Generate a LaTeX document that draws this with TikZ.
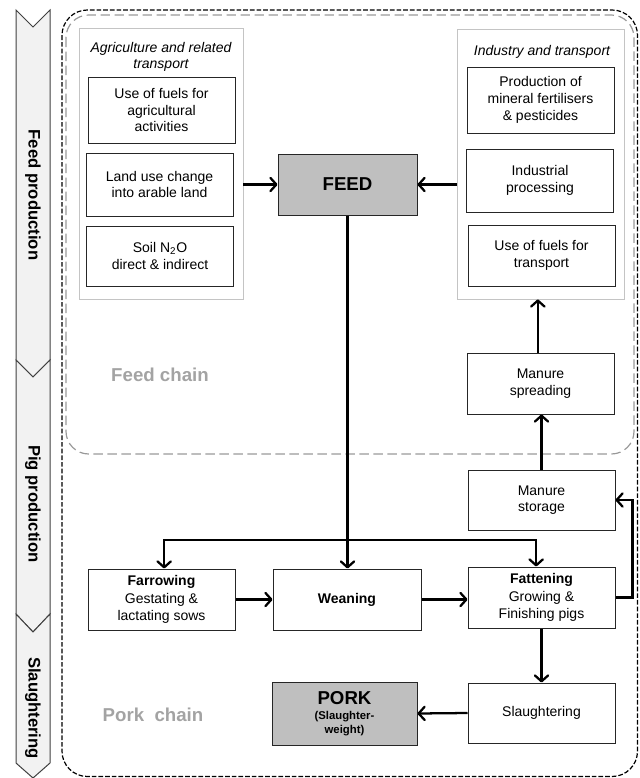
\documentclass[tikz,border=0pt]{standalone}
\usepackage{fontspec}
\setmainfont{Liberation Sans}
\usetikzlibrary{arrows.meta}
\definecolor{bandfill}{HTML}{F2F2F2}
\definecolor{bandline}{HTML}{404040}
\definecolor{grpgray}{HTML}{C4C4C4}
\definecolor{dashgray}{HTML}{999999}
\definecolor{chaingray}{HTML}{A3A3A3}
\definecolor{boxfill}{HTML}{BFBFBF}
\begin{document}
\begin{tikzpicture}[x=0.75pt,y=-0.75pt,
  every node/.style={font=\fontsize{10.5}{12.5}\selectfont},
  box/.style={draw=black!85, line width=0.75pt, fill=white, align=center, inner sep=0pt,
              minimum width=110.25pt},
  grp/.style={draw=grpgray, line width=0.6pt, fill=white, inner sep=0pt},
  hdr/.style={font=\fontsize{10.5}{12.5}\selectfont\itshape, align=center},
  darkbox/.style={box, fill=boxfill},
  band/.style={fill=bandfill, draw=bandline, line width=0.75pt, line join=miter},
  bandtext/.style={font=\fontsize{12.5}{14}\selectfont\bfseries, rotate=-90},
  chain/.style={font=\fontsize{14}{16}\selectfont\bfseries, text=chaingray},
  arr/.style={line width=1.7pt, -{Straight Barb[length=4.5pt,width=10pt,line width=1.7pt,round]}},
]
\useasboundingbox (0,0) rectangle (639,778);

% left band
\draw[band] (16,10) -- (33,27) -- (50,10) -- (50,360) -- (33,377) -- (16,360) -- cycle;
\draw[band] (16,360) -- (33,377) -- (50,360) -- (50,614) -- (33,632) -- (16,614) -- cycle;
\draw[band] (16,614) -- (33,632) -- (50,614) -- (50,763) -- (33,778) -- (16,763) -- cycle;
\node[bandtext] (bfeed) at (33,195) {Feed production};
\node[bandtext] (bpig) at (33,504) {Pig production};
\node[bandtext] (bslau) at (33,708) {Slaughtering};

% chain frames
\draw[line width=0.9pt, dash pattern=on 3.5pt off 1.5pt, rounded corners=19pt]
  (62,10) rectangle (637.5,776.5);
\draw[dashgray, line width=0.9pt, dash pattern=on 7pt off 3.5pt, rounded corners=17pt]
  (66,15) rectangle (634,454);
\node[chain] (feedchain) at (160,375) {Feed chain};
\node[chain] (porkchain) at (153,715) {Pork\ \ chain};

% groups
\node[grp, minimum width=123pt, minimum height=203.25pt] (agri) at (161,163.5) {};
\node[hdr] (agrih) at (161,57) {Agriculture and related\\transport};
\node[grp, minimum width=125.25pt, minimum height=202.5pt] (ind) at (540.5,164) {};
\node[hdr] (indh) at (542,52) {Industry and transport};

% boxes
\node[box, minimum height=49.5pt] (fuelagri) at (161.5,110) {Use of fuels for\\agricultural\\activities};
\node[box, minimum height=47.25pt] (landuse) at (159.5,184.5) {Land use change\\into arable land};
\node[box, minimum height=45pt] (soil) at (160,256) {Soil N\textsubscript{2}O\\direct \& indirect};
\node[darkbox, minimum width=104.25pt, minimum height=45.75pt,
      font=\fontsize{14}{16}\selectfont\bfseries] (feed) at (347.5,184.5) {FEED};
\node[box, minimum height=49.5pt] (prod) at (540.5,100) {Production of\\mineral fertilisers\\\& pesticides};
\node[box, minimum height=47.25pt] (indproc) at (540,180.5) {Industrial\\processing};
\node[box, minimum height=45.75pt] (fueltrans) at (541.5,255.5) {Use of fuels for\\transport};
\node[box, minimum height=45.75pt] (spread) at (540.5,383.5) {Manure\\spreading};
\node[box, minimum height=45pt] (storage) at (541.5,500) {Manure\\storage};
\node[box, minimum height=45.75pt] (farrow) at (161.5,599.5) {\textbf{Farrowing}\\[1pt]Gestating \&\\lactating sows};
\node[box, minimum width=111pt, minimum height=45.75pt] (wean) at (347,599.5) {\textbf{Weaning}};
\node[box, minimum height=45.75pt] (fatten) at (541.5,597.5) {\textbf{Fattening}\\[1pt]Growing \&\\Finishing pigs};
\node[box, minimum height=45pt] (slaughter) at (541.5,713) {Slaughtering};
\node[darkbox, minimum width=108.75pt, minimum height=47.25pt] (pork) at (344.5,713.5)
  {{\fontsize{14}{16}\selectfont\bfseries PORK}\\[-1pt]{\fontsize{8.5}{8.5}\selectfont\bfseries (Slaughter-}\\[-2pt]{\fontsize{8.5}{8.5}\selectfont\bfseries weight)}};

% connectors
\draw[arr] (agri.east |- feed.west) -- (feed.west);
\draw[arr] (ind.west |- feed.east) -- (feed.east);
\draw[arr] (feed.south) -- (feed.south |- wean.north);
\coordinate (split) at (feed.south |- 0,540);
\draw[arr] (split) -| ([xshift=2pt]farrow.north);
\draw[arr] (split) -| ([xshift=-4pt]fatten.north);
\draw[arr] (farrow.east) -- (wean.west);
\draw[arr] (wean.east) -- (wean.east -| fatten.west);
\draw[arr] (fatten.east) -- ++(17,0) |- (storage.east);
\draw[arr] (storage.north) -- (storage.north |- spread.south);
\draw[arr] ([xshift=-2pt]spread.north) -- ([xshift=-2pt]spread.north |- ind.south);
\draw[arr] (fatten.south) -- (fatten.south |- slaughter.north);
\draw[arr] (slaughter.west) -- (pork.east);
\end{tikzpicture}
\end{document}
